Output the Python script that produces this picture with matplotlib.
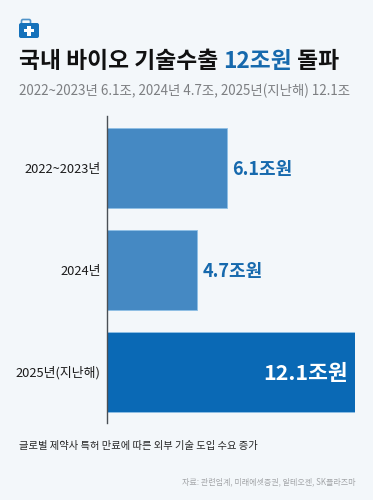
# -*- coding: utf-8 -*-
import numpy as np
import matplotlib
matplotlib.use("Agg")
import matplotlib.pyplot as plt
from matplotlib.patches import FancyBboxPatch, Rectangle

plt.rcParams["font.family"] = ["Noto Sans CJK KR", "DejaVu Sans"]

W, H = 373, 500
BAR_LIGHT = "#4589c3"
BAR_DARK = "#0a69b5"
BLUE_TEXT = "#1669ad"

categories = ["2022~2023년", "2024년", "2025년(지난해)"]
values = [6.1, 4.7, 12.1]
value_labels = ["6.1조원", "4.7조원", "12.1조원"]
title_parts = [("국내 바이오 기술수출 ", "#111111"), ("12조원", BLUE_TEXT), (" 돌파", "#111111")]
subtitle = "2022~2023년 6.1조, 2024년 4.7조, 2025년(지난해) 12.1조"
note = "글로벌 제약사 특허 만료에 따른 외부 기술 도입 수요 증가"
source = "자료: 관련업계, 미래에셋증권, 알테오젠, SK플라즈마"

fig = plt.figure(figsize=(W / 100, H / 100), dpi=100, facecolor="#f3f7fa")

# 배경 + 텍스트용 (픽셀 좌표)
bg = fig.add_axes([0, 0, 1, 1])
bg.set_xlim(0, W); bg.set_ylim(H, 0); bg.axis("off")

# 의료 가방 아이콘
bg.add_patch(FancyBboxPatch((21.5, 19.5), 9, 6, boxstyle="round,pad=0,rounding_size=1.5",
                            fc="none", ec="#4f93c9", lw=1.2))
bg.add_patch(FancyBboxPatch((19, 23), 20, 15, boxstyle="round,pad=0,rounding_size=2",
                            fc="#1572bb", ec="none"))
bg.add_patch(Rectangle((24, 29), 10, 3.2, fc="white", ec="none"))
bg.add_patch(Rectangle((27.4, 25.6), 3.2, 10, fc="white", ec="none"))

# 제목: 색이 다른 조각을 이어 붙임
renderer = fig.canvas.get_renderer()
x = 19
for part, color in title_parts:
    t = bg.text(x, 62, part, fontsize=16.4, fontweight="bold", color=color, va="center", ha="left")
    # 공백 폭까지 재기 위해 마침표를 붙여 측정
    probe = bg.text(0, 0, part + ".", fontsize=16.4, fontweight="bold")
    dot = bg.text(0, 0, ".", fontsize=16.4, fontweight="bold")
    x += probe.get_window_extent(renderer).width - dot.get_window_extent(renderer).width
    probe.remove(); dot.remove()

bg.text(19, 90.5, subtitle, fontsize=9.65, color="#7d7f82", va="center", ha="left")
bg.text(19, 446.5, note, fontsize=7.4, color="#262626", va="center", ha="left")
bg.text(355.5, 481.5, source, fontsize=5.8, color="#a3a5a8", va="center", ha="right")

# 막대 차트: x축은 0.45부터 시작
ax = fig.add_axes([107 / W, 1 - 423 / H, (354.5 - 107) / W, (423 - 116) / H])
ax.patch.set_alpha(0)
y = np.arange(len(categories))
colors = [BAR_LIGHT, BAR_LIGHT, BAR_DARK]
ax.barh(y, values, height=0.784, color=colors, edgecolor="#8fc0e6", linewidth=0.6)
ax.set_xlim(0.45, 12.1)
ax.set_ylim(2.503, -0.507)
ax.set_yticks(y)
ax.set_yticklabels(categories, fontsize=9.3, color="#1c1c1c")
ax.tick_params(axis="y", length=0, pad=4.5)
ax.set_xticks([])
for side in ["top", "right", "bottom"]:
    ax.spines[side].set_visible(False)
ax.spines["left"].set_color("#4a4f55")
ax.spines["left"].set_linewidth(1.0)

ax.annotate(value_labels[0], (values[0], y[0]), xytext=(3.5, -1), textcoords="offset points",
            fontsize=13, fontweight="bold", color=BLUE_TEXT, va="center", ha="left")
ax.annotate(value_labels[1], (values[1], y[1]), xytext=(4, -1), textcoords="offset points",
            fontsize=13, fontweight="bold", color=BLUE_TEXT, va="center", ha="left")
ax.annotate(value_labels[2], (values[2], y[2]), xytext=(-4.5, -1), textcoords="offset points",
            fontsize=15.5, fontweight="bold", color="white", va="center", ha="right")

fig.savefig("out.png", dpi=100, facecolor=fig.get_facecolor())
plt.close(fig)
